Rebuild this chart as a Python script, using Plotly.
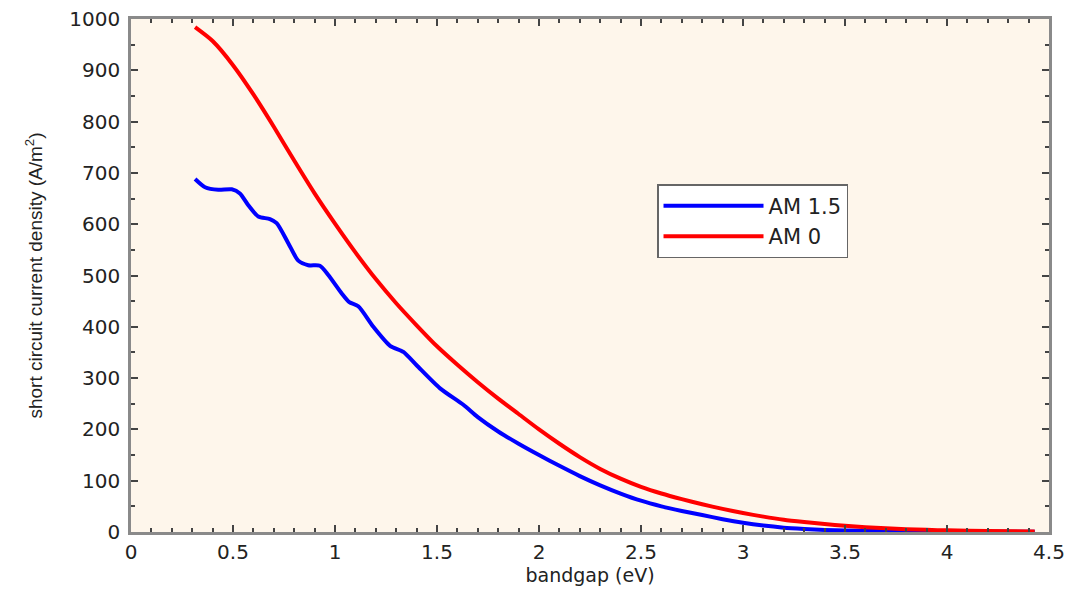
import plotly.graph_objects as go

# AM 1.5 (blue)
am15_eV = [0.314, 0.363, 0.428, 0.494, 0.534, 0.575, 0.624, 0.681, 0.714, 0.771, 0.820, 0.869,
           0.926, 0.967, 1.033, 1.070, 1.114, 1.188, 1.270, 1.335, 1.400, 1.515, 1.629, 1.70,
           1.80, 1.90, 2.00, 2.10, 2.20, 2.30, 2.40, 2.50, 2.60, 2.70, 2.80, 2.90,
           3.00, 3.10, 3.20, 3.30, 3.40, 3.50, 3.70, 4.00, 4.43]
am15_J = [688, 672, 667, 668, 660, 637, 615, 610, 602, 563, 529, 520,
          519, 501, 465, 448, 440, 400, 363, 351, 325, 280, 248, 224,
          196, 172, 150, 129, 109, 91, 75, 61, 50, 41, 33, 25,
          18, 12.5, 8.5, 6, 4, 3, 2, 1, 0.3]

# AM 0 (red)
am0_eV = [0.314, 0.40, 0.50, 0.60, 0.70, 0.80, 0.90, 1.00, 1.10, 1.20, 1.30, 1.40,
          1.50, 1.60, 1.70, 1.80, 1.90, 2.00, 2.10, 2.20, 2.30, 2.40, 2.50, 2.60,
          2.70, 2.80, 2.90, 3.00, 3.10, 3.20, 3.30, 3.40, 3.50, 3.60, 3.70, 3.80,
          3.90, 4.00, 4.20, 4.43]
am0_J = [984, 957, 910, 853, 790, 724, 660, 601, 545, 493, 446, 403,
         362, 326, 292, 260, 230, 200, 172, 146, 123, 104, 88, 75,
         64, 54, 45, 37, 30, 24, 19.5, 15.5, 12, 9.5, 7.5, 5.5,
         4.2, 3.2, 2, 1]

x_ticks = [0, 0.5, 1, 1.5, 2, 2.5, 3, 3.5, 4, 4.5]
x_tick_labels = ["0", "0.5", "1", "1.5", "2", "2.5", "3", "3.5", "4", "4.5"]
y_ticks = [0, 100, 200, 300, 400, 500, 600, 700, 800, 900, 1000]

FONT = "DejaVu Sans, Liberation Sans, Arial, sans-serif"
TXT = "#222222"

fig = go.Figure()
fig.add_trace(go.Scatter(x=am15_eV, y=am15_J, mode="lines", name="AM 1.5",
                         line=dict(color="#0000ff", width=4, shape="spline", smoothing=0.7)))
fig.add_trace(go.Scatter(x=am0_eV, y=am0_J, mode="lines", name="AM 0",
                         line=dict(color="#ff0000", width=4, shape="spline", smoothing=0.7)))

axis_common = dict(
    showline=True, linecolor="#8a8a8a", linewidth=2.5, mirror="allticks",
    ticks="inside", ticklen=7, tickwidth=1.5, tickcolor="#444444",
    showgrid=False, zeroline=False, automargin=False,
    tickfont=dict(family=FONT, size=20, color=TXT),
)

fig.update_xaxes(range=[0, 4.5], tickvals=x_ticks, ticktext=x_tick_labels,
                 minor=dict(dtick=0.1, ticks="inside", ticklen=4, tickcolor="#444444", showgrid=False),
                 title=dict(text="bandgap (eV)", font=dict(family=FONT, size=19, color=TXT),
                            standoff=4),
                 **axis_common)
fig.update_yaxes(range=[0, 1000], tickvals=y_ticks,
                 minor=dict(dtick=50, ticks="inside", ticklen=4, tickcolor="#444444", showgrid=False),
                 title=dict(text="short circuit current density (A/m<sup>2</sup>)",
                            font=dict(family="Liberation Sans, Arial, sans-serif", size=19, color=TXT),
                            standoff=22),
                 ticklabelstandoff=4,
                 **axis_common)

fig.update_layout(
    width=1073, height=591,
    margin=dict(l=131, r=24, t=19, b=59),
    paper_bgcolor="#ffffff", plot_bgcolor="#fef6eb",
    showlegend=True,
    legend=dict(x=0.573, y=0.678, xanchor="left", yanchor="top",
                bgcolor="#ffffff", bordercolor="#666666", borderwidth=1.5,
                font=dict(family=FONT, size=21, color=TXT),
                itemwidth=100, tracegroupgap=0,
                entrywidth=215, entrywidthmode="pixels"),
)

fig.write_html("out.html", config={"displayModeBar": False},
               post_script="document.body.style.margin='0px';")
